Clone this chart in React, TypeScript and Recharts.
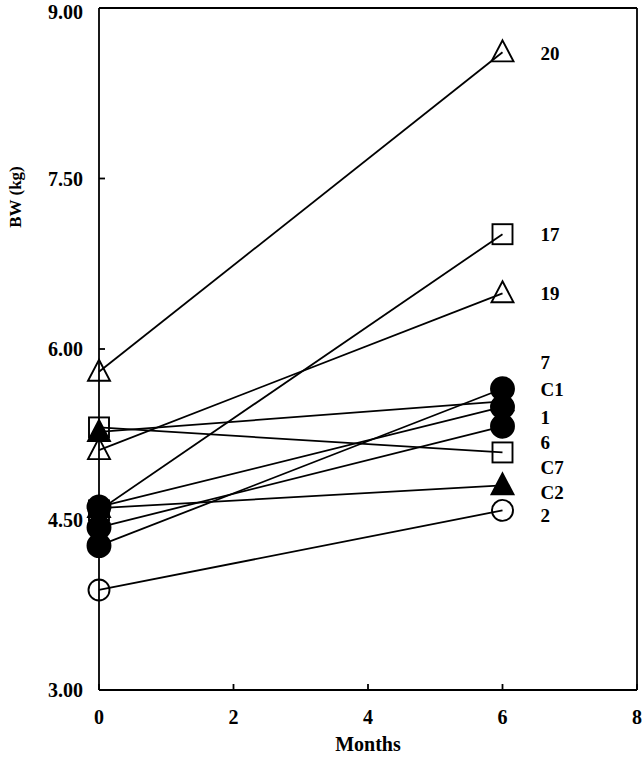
import React from "react";
import { LineChart, Line, XAxis, YAxis, ReferenceLine, Label } from "recharts";

// body weight at month 0 and month 6 per animal
const MONTHS = [0, 6];
const ANIMALS = ["20", "17", "19", "7", "C1", "1", "6", "C7", "C2", "2"];
const BW_START = [5.8, 4.58, 5.11, 5.27, 4.27, 4.61, 4.43, 5.31, 4.6, 3.88];
const BW_END = [8.61, 7.01, 6.49, 5.54, 5.65, 5.49, 5.32, 5.09, 4.8, 4.58];
const MARKERS = [
  "triangle-open",
  "square-open",
  "triangle-open",
  "triangle-filled",
  "circle-filled",
  "circle-filled",
  "circle-filled",
  "square-open",
  "triangle-filled",
  "circle-open",
];
const X_TICKS = [0, 2, 4, 6, 8];
const Y_TICKS = [3, 4.5, 6, 7.5, 9];

// label nudges (px) so names don't collide at the right end
const LABEL_DY = [1, 0, 0, -39, 1, 10, 16, 15, 7, 5];

const FONT = "'Liberation Serif', 'Times New Roman', serif";
const INK = "#000";

function Marker({ cx, cy, shape }: { cx: number; cy: number; shape: string }) {
  if (cx == null || cy == null) return null;
  const filled = shape.endsWith("filled");
  const fill = filled ? INK : "none";
  if (shape.startsWith("circle")) {
    return <circle cx={cx} cy={cy} r={filled ? 11.5 : 10.5} fill={fill} stroke={INK} strokeWidth={1.9} />;
  }
  if (shape.startsWith("square")) {
    return <rect x={cx - 10} y={cy - 10} width={20} height={20} fill={fill} stroke={INK} strokeWidth={1.9} />;
  }
  const pts = `${cx},${cy - 12} ${cx + 11},${cy + 9} ${cx - 11},${cy + 9}`;
  return <polygon points={pts} fill={fill} stroke={INK} strokeWidth={1.9} strokeLinejoin="miter" />;
}

export default function App() {
  const tickStyle = { fill: INK, fontFamily: FONT, fontWeight: 700, fontSize: 20 };
  return (
    <div style={{ position: "absolute", left: 0, top: 0, background: "#fff" }}>
      <LineChart width={644} height={758} margin={{ top: 8, right: 7, left: 0, bottom: 0 }}>
        <XAxis
          type="number"
          dataKey="m"
          domain={[0, 8]}
          ticks={X_TICKS}
          allowDuplicatedCategory={false}
          height={68}
          stroke={INK}
          strokeWidth={1.8}
          tickSize={-6}
          tickMargin={26}
          tick={tickStyle}
        >
          <Label
            value="Months"
            position="insideBottom"
            offset={7}
            style={{ fill: INK, fontFamily: FONT, fontWeight: 700, fontSize: 20 }}
          />
        </XAxis>
        <YAxis
          type="number"
          domain={[3, 9]}
          ticks={Y_TICKS}
          width={99}
          stroke={INK}
          strokeWidth={1.8}
          tickSize={-6}
          tickMargin={22}
          tick={tickStyle}
          tickFormatter={(v: number) => v.toFixed(2)}
        >
          <Label
            content={() => (
              <text
                x={15}
                y={197}
                transform="rotate(-90 15 197)"
                textAnchor="middle"
                dominantBaseline="central"
                fill={INK}
                fontFamily={FONT}
                fontWeight={700}
                fontSize={17}
              >
                BW (kg)
              </text>
            )}
          />
        </YAxis>
        <ReferenceLine x={8} stroke={INK} strokeWidth={1.8} />
        <ReferenceLine y={9} stroke={INK} strokeWidth={1.8} />
        {ANIMALS.map((name, i) => {
          const data = MONTHS.map((m, j) => ({ m, v: j === 0 ? BW_START[i] : BW_END[i] }));
          return (
            <Line
              key={name}
              data={data}
              dataKey="v"
              name={name}
              stroke={INK}
              strokeWidth={1.8}
              isAnimationActive={false}
              dot={(p: any) => <Marker key={`${name}-${p.index}`} cx={p.cx} cy={p.cy} shape={MARKERS[i]} />}
              activeDot={false}
              label={(p: any) =>
                p.index === MONTHS.length - 1 ? (
                  <text
                    key={`lbl-${name}`}
                    x={p.x + 38}
                    y={p.y + LABEL_DY[i]}
                    dy="0.35em"
                    fill={INK}
                    fontFamily={FONT}
                    fontWeight={700}
                    fontSize={19}
                  >
                    {name}
                  </text>
                ) : (
                  <g key={`lbl-${name}-${p.index}`} />
                )
              }
            />
          );
        })}
      </LineChart>
    </div>
  );
}
